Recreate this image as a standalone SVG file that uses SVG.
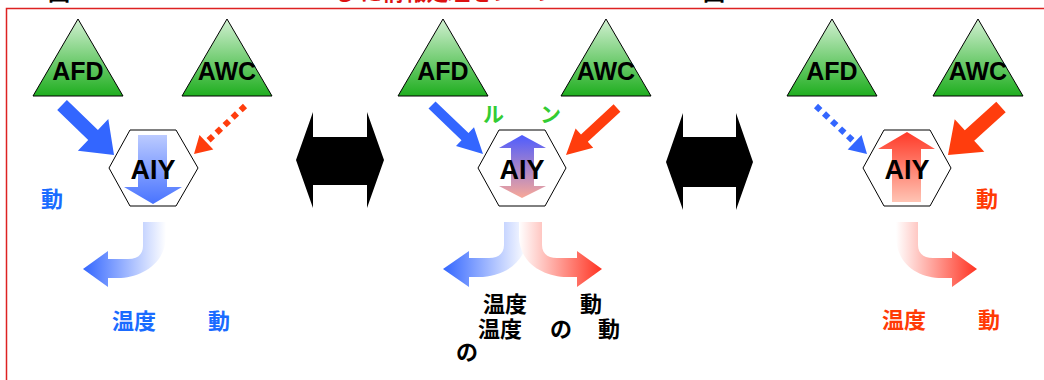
<svg xmlns="http://www.w3.org/2000/svg" width="1044" height="380" viewBox="0 0 1044 380">
<style>
.lbl{font-family:"Liberation Sans",Arial,sans-serif;font-weight:bold;font-size:25px;fill:#000;text-anchor:middle}
.jp{font-family:"Noto Sans CJK JP","Noto Sans CJK SC",sans-serif;font-weight:bold;font-size:22px}
.tri{stroke:#000;stroke-width:1;fill:url(#gGreen)}
.hex{fill:#fff;stroke:#000;stroke-width:1}
.blue{fill:#3366ff}
.red{fill:#ff3d0d}
.big{fill:#000}
</style>
<defs>
<linearGradient id="gGreen" x1="0" y1="0" x2="0" y2="1">
<stop offset="0" stop-color="#d2f0d2"/><stop offset="1" stop-color="#1fae1f"/>
</linearGradient>
<linearGradient id="gDown" x1="0" y1="0" x2="0" y2="1">
<stop offset="0" stop-color="#b8c8ff"/><stop offset="1" stop-color="#3f6cff"/>
</linearGradient>
<linearGradient id="gBoth" x1="0" y1="0" x2="0" y2="1">
<stop offset="0" stop-color="#4d5cff"/><stop offset="1" stop-color="#f9a898"/>
</linearGradient>
<linearGradient id="gUp" x1="0" y1="0" x2="0" y2="1">
<stop offset="0" stop-color="#ff3a28"/><stop offset="1" stop-color="#ffc4b4"/>
</linearGradient>
<linearGradient id="gB1" gradientUnits="userSpaceOnUse" x1="83" y1="0" x2="166" y2="0">
<stop offset="0" stop-color="#3366ff"/><stop offset="1" stop-color="#ffffff"/>
</linearGradient>
<linearGradient id="gB2" gradientUnits="userSpaceOnUse" x1="443" y1="0" x2="527" y2="0">
<stop offset="0" stop-color="#3366ff"/><stop offset="1" stop-color="#ffffff"/>
</linearGradient>
<linearGradient id="gR2" gradientUnits="userSpaceOnUse" x1="519" y1="0" x2="602" y2="0">
<stop offset="0" stop-color="#ffffff"/><stop offset="1" stop-color="#ff3322"/>
</linearGradient>
<linearGradient id="gR3" gradientUnits="userSpaceOnUse" x1="896" y1="0" x2="977" y2="0">
<stop offset="0" stop-color="#ffffff"/><stop offset="1" stop-color="#ff3322"/>
</linearGradient>
</defs>
<rect x="0" y="0" width="1044" height="380" fill="#fff"/>
<!-- clipped title -->
<g id="title" class="jp">
<text x="48" y="0" fill="#000">図</text>
<text x="333" y="0" fill="#dd1111">る に情報処理をン　ン　ー</text>
<text x="703" y="0" fill="#000">図</text>
</g>
<rect x="6.5" y="8.5" width="1050" height="380" fill="none" stroke="#dd2222" stroke-width="1.5"/>

<!-- Panel 1 -->
<g id="afd1"><polygon class="tri" points="78,19 123,96 33,96"/><text class="lbl" x="78" y="80">AFD</text></g>
<g id="awc1"><polygon class="tri" points="227,19 272,96 182,96"/><text class="lbl" x="227" y="80">AWC</text></g>
<g id="aiy1"><polygon class="hex" points="109,168 130,130 176,130 198,168 176,206 130,206"/>
<polygon fill="url(#gDown)" opacity="0.95" points="138,135 167,135 167,187 182,187 153,204 124,187 138,187"/>
<text class="lbl" x="153" y="179" style="font-size:27px">AIY</text></g>

<!-- Panel 2 -->
<g id="afd2"><polygon class="tri" points="443,19 488,96 398,96"/><text class="lbl" x="443" y="80">AFD</text></g>
<g id="awc2"><polygon class="tri" points="606,19 651,96 561,96"/><text class="lbl" x="606" y="80">AWC</text></g>
<g id="aiy2"><polygon class="hex" points="478,168 499,130 545,130 566,168 545,206 499,206"/>
<polygon fill="url(#gBoth)" points="522,135 546,148 534,148 534,186 546,186 522,198 499,186 511,186 511,148 499,148"/>
<text class="lbl" x="522" y="179" style="font-size:27px">AIY</text></g>

<!-- Panel 3 -->
<g id="afd3"><polygon class="tri" points="832,19 877,96 787,96"/><text class="lbl" x="832" y="80">AFD</text></g>
<g id="awc3"><polygon class="tri" points="978,19 1023,96 933,96"/><text class="lbl" x="978" y="80">AWC</text></g>
<g id="aiy3"><polygon class="hex" points="863,168 884,130 930,130 951,168 930,206 884,206"/>
<polygon fill="url(#gUp)" points="907,132 935,149 921,149 921,202 892,202 892,149 878,149"/>
<text class="lbl" x="907" y="179" style="font-size:27px">AIY</text></g>

<g id="connectors">
<!-- panel 1 -->
<polygon class="blue" points="57.2,110.1 88.2,139.9 77.9,150.8 114,155 108.3,119 97.9,129.9 66.9,100"/>
<line x1="245" y1="106" x2="206.4" y2="142.3" stroke="#ff3d0d" stroke-width="6" stroke-dasharray="6 5"/>
<polygon class="red" points="194,154 213.3,149.6 199.5,135"/>
<!-- panel 2 -->
<polygon class="blue" points="428.5,108.6 461.5,140.3 456,146.1 483,154 474,127.3 468.5,133.1 435.5,101.4"/>
<polygon class="red" points="620.4,111.7 587.8,141.8 593.2,147.7 566,155 575.6,128.5 581,134.4 613.6,104.3"/>
<!-- panel 3 -->
<line x1="816" y1="106" x2="854.6" y2="142.3" stroke="#3366ff" stroke-width="6" stroke-dasharray="6 5"/>
<polygon class="blue" points="867,154 847.7,149.6 861.5,135"/>
<polygon class="red" points="1005.7,112.2 974.2,140.7 984.3,151.8 948,155 954.7,119.2 964.8,130.3 996.3,101.8"/>
<!-- between panels -->
<polygon class="big" points="296,160 313,112 313,137 367,137 367,112 384,160 367,208 367,185 313,185 313,208"/>
<polygon class="big" points="666,162 683,113 683,137 736,137 736,113 753,162 736,210 736,187 683,187 683,210"/>
<!-- bottom outputs -->
<path fill="url(#gB1)" d="M143,222 L166,222 L166,236 C166,264 140,278 118,278 L108,278 L108,287 L83,269 L108,251 L108,259 L128,259 C138,259 143,254 143,246 Z"/>
<path fill="url(#gB2)" d="M504,222 L527,222 L527,236 C527,264 501,277 479,277 L469,277 L469,287 L443,269 L469,251 L469,258 L489,258 C499,258 504,253 504,245 Z"/>
<path fill="url(#gR2)" d="M519,222 L542,222 L542,245 C542,253 547,258 557,258 L577,258 L577,251 L602,269 L577,287 L577,277 L567,277 C545,277 519,264 519,236 Z"/>
<path fill="url(#gR3)" d="M896,222 L918,222 L918,245 C918,253 923,258 933,258 L952,258 L952,251 L977,269 L952,287 L952,278 L942,278 C918,278 896,264 896,236 Z"/>
</g>

<g id="labels" class="jp">
<text x="483" y="122" fill="#33cc33" style="font-size:21px">ル</text>
<text x="540" y="122" fill="#33cc33" style="font-size:21px">ン</text>
<text x="41" y="207" fill="#1a6bff">動</text>
<text x="976" y="207" fill="#ff3a05">動</text>
<text x="112" y="329" fill="#1a6bff">温度</text>
<text x="208" y="329" fill="#1a6bff">動</text>
<text x="882" y="328" fill="#ff3a05">温度</text>
<text x="978" y="328" fill="#ff3a05">動</text>
<text x="483" y="312" fill="#000">温度</text>
<text x="580" y="312" fill="#000">動</text>
<text x="478" y="337" fill="#000">温度</text>
<text x="550" y="337" fill="#000">の</text>
<text x="598" y="337" fill="#000">動</text>
<text x="456" y="360" fill="#000">の</text>
</g>
</svg>
